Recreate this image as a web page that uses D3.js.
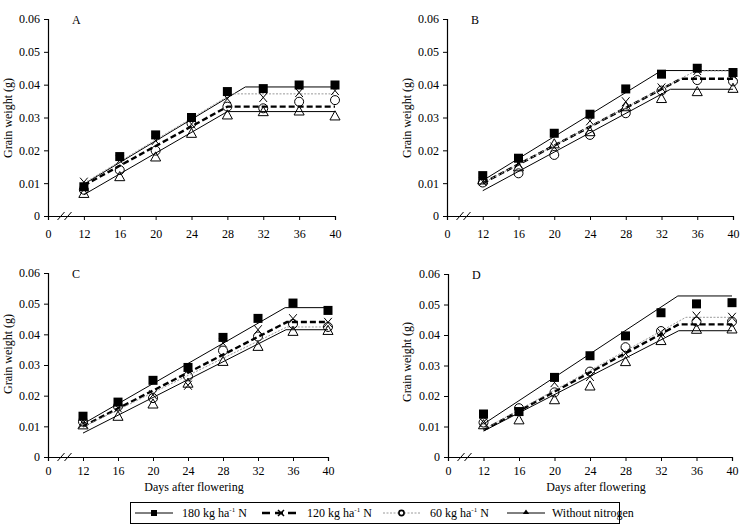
<!DOCTYPE html>
<html>
<head>
<meta charset="utf-8">
<script src="https://cdn.jsdelivr.net/npm/d3@7"></script>
<style>
  body { margin: 0; background: #fff; }
  svg { font-family: "Liberation Serif", "Times New Roman", serif; }
</style>
</head>
<body>
<div id="chart"></div>
<script>
// Days after flowering (x values of the observed points)
const days = [12, 16, 20, 24, 28, 32, 36, 40];
const yTicks = [0, 0.01, 0.02, 0.03, 0.04, 0.05, 0.06];
const xTicks = [8, 12, 16, 20, 24, 28, 32, 36, 40]; // 8 is shown as "0" (broken axis)

const seriesNames = ["180 kg ha", "120 kg ha", "60 kg ha", "Without nitrogen"];

// Observed grain weight (g) - panel A
const a180 = [0.0089, 0.0181, 0.0247, 0.0300, 0.0379, 0.0388, 0.0399, 0.0399];
const a120 = [0.0103, 0.0170, 0.0230, 0.0280, 0.0357, 0.0361, 0.0376, 0.0382];
const a60  = [0.0080, 0.0140, 0.0199, 0.0282, 0.0333, 0.0328, 0.0348, 0.0353];
const a0   = [0.0069, 0.0120, 0.0180, 0.0252, 0.0308, 0.0318, 0.0320, 0.0305];
// panel B
const b180 = [0.0123, 0.0176, 0.0252, 0.0310, 0.0387, 0.0432, 0.0450, 0.0437];
const b120 = [0.0105, 0.0160, 0.0210, 0.0290, 0.0348, 0.0390, 0.0443, 0.0430];
const b60  = [0.0102, 0.0130, 0.0186, 0.0247, 0.0313, 0.0382, 0.0414, 0.0410];
const b0   = [0.0110, 0.0150, 0.0220, 0.0257, 0.0333, 0.0358, 0.0379, 0.0389];
// panel C
const c180 = [0.0133, 0.0179, 0.0250, 0.0292, 0.0390, 0.0452, 0.0502, 0.0478];
const c120 = [0.0110, 0.0160, 0.0203, 0.0234, 0.0372, 0.0415, 0.0451, 0.0439];
const c60  = [0.0115, 0.0165, 0.0192, 0.0263, 0.0347, 0.0393, 0.0434, 0.0424];
const c0   = [0.0105, 0.0133, 0.0173, 0.0241, 0.0312, 0.0361, 0.0410, 0.0413];
// panel D
const d180 = [0.0141, 0.0149, 0.0261, 0.0332, 0.0397, 0.0473, 0.0502, 0.0506];
const d120 = [0.0113, 0.0150, 0.0244, 0.0264, 0.0340, 0.0408, 0.0462, 0.0458];
const d60  = [0.0113, 0.0160, 0.0212, 0.0280, 0.0360, 0.0413, 0.0444, 0.0444];
const d0   = [0.0106, 0.0122, 0.0188, 0.0233, 0.0313, 0.0382, 0.0419, 0.0420];

// Fitted linear-plateau curves: [day, grain weight]
const fitA180 = [[12, 0.0097], [30, 0.0393], [40, 0.0393]];
const fitA120 = [[12, 0.0093], [28, 0.0333], [40, 0.0333]];
const fitA60  = [[12, 0.0100], [28.5, 0.0372], [40, 0.0372]];
const fitA0   = [[12, 0.0065], [28, 0.0318], [40, 0.0318]];
const fitB180 = [[12, 0.0108], [32, 0.0443], [40, 0.0443]];
const fitB120 = [[12, 0.0100], [34.2, 0.0418], [40, 0.0418]];
const fitB60  = [[12, 0.0100], [35.8, 0.0442], [40, 0.0442]];
const fitB0   = [[12, 0.0077], [33, 0.0386], [40, 0.0386]];
const fitC180 = [[12, 0.0108], [35.1, 0.0487], [40, 0.0487]];
const fitC120 = [[12, 0.0100], [35.3, 0.0440], [40, 0.0440]];
const fitC60  = [[12, 0.0098], [35.3, 0.0424], [40, 0.0424]];
const fitC0   = [[12, 0.0078], [35.2, 0.0415], [40, 0.0415]];
const fitD180 = [[12, 0.0108], [33.9, 0.0528], [40, 0.0528]];
const fitD120 = [[12, 0.0088], [34, 0.0435], [40, 0.0435]];
const fitD60  = [[12, 0.0090], [34.8, 0.0458], [40, 0.0458]];
const fitD0   = [[12, 0.0085], [34, 0.0414], [40, 0.0414]];

const svg = d3.select("#chart").append("svg")
    .attr("width", 741)
    .attr("height", 526);

// Panel frames (pixel layout)
const panels = [
    { name: "A", left: 48, right: 335, top: 19, bottom: 216, labelPad: 9, yLabelX: 8, yLabelY: 118, showTitle: false,
      obs: [a180, a120, a60, a0], fits: [fitA180, fitA120, fitA60, fitA0] },
    { name: "B", left: 447, right: 733, top: 19, bottom: 216, labelPad: 9, yLabelX: 407, yLabelY: 118, showTitle: false,
      obs: [b180, b120, b60, b0], fits: [fitB180, fitB120, fitB60, fitB0] },
    { name: "C", left: 48, right: 328, top: 273, bottom: 457, labelPad: 5, yLabelX: 8, yLabelY: 354, showTitle: true,
      obs: [c180, c120, c60, c0], fits: [fitC180, fitC120, fitC60, fitC0] },
    { name: "D", left: 448, right: 732, top: 274, bottom: 457, labelPad: 5, yLabelX: 407, yLabelY: 362, showTitle: true,
      obs: [d180, d120, d60, d0], fits: [fitD180, fitD120, fitD60, fitD0] }
];

// Line styles per series: 180, 120, 60, without N
const lineStyles = [
    { stroke: "#000", width: 1, dash: null },
    { stroke: "#000", width: 2.4, dash: "6,3" },
    { stroke: "#9a9a9a", width: 1, dash: "2,1.5" },
    { stroke: "#000", width: 1, dash: null }
];

// Marker drawing helper
function drawMarker(g, type, x, y, s) {
    if (type === 0) {
        g.append("rect").attr("x", x - s).attr("y", y - s)
            .attr("width", 2 * s).attr("height", 2 * s).attr("fill", "#000");
    } else if (type === 1) {
        g.append("path")
            .attr("d", `M${x - s * 0.85},${y - s}L${x + s * 0.85},${y + s}M${x + s * 0.85},${y - s}L${x - s * 0.85},${y + s}`)
            .attr("stroke", "#000").attr("stroke-width", 1).attr("fill", "none");
    } else if (type === 2) {
        g.append("circle").attr("cx", x).attr("cy", y).attr("r", s)
            .attr("fill", "none").attr("stroke", "#000").attr("stroke-width", 1);
    } else {
        g.append("path")
            .attr("d", `M${x},${y - s * 1.05}L${x + s * 1.05},${y + s * 0.85}L${x - s * 1.05},${y + s * 0.85}Z`)
            .attr("fill", "none").attr("stroke", "#000").attr("stroke-width", 1);
    }
}

panels.forEach(p => {
    const x = d3.scaleLinear().domain([8, 40]).range([p.left, p.right]);
    const y = d3.scaleLinear().domain([0, 0.06]).range([p.bottom, p.top]);
    const g = svg.append("g");

    // Y axis
    g.append("g")
        .attr("transform", `translate(${p.left},0)`)
        .call(d3.axisLeft(y).tickValues(yTicks).tickSize(4).tickPadding(4)
            .tickFormat(d => d === 0 ? "0" : d3.format(".2f")(d)))
        .call(a => a.selectAll("text").attr("font-size", 12).attr("font-family", "Liberation Serif"))
        .call(a => a.select(".domain").attr("stroke-width", 1.2));

    // X axis
    g.append("g")
        .attr("transform", `translate(0,${p.bottom})`)
        .call(d3.axisBottom(x).tickValues(xTicks).tickSize(4).tickPadding(p.labelPad)
            .tickFormat(d => d === 8 ? "0" : d))
        .call(a => a.selectAll("text").attr("font-size", 12).attr("font-family", "Liberation Serif"))
        .call(a => a.select(".domain").attr("stroke-width", 1.2));

    // Axis break marks "//"
    [13, 20].forEach(dx => {
        g.append("line")
            .attr("x1", p.left + dx - 3.5).attr("y1", p.bottom + 4)
            .attr("x2", p.left + dx + 3.5).attr("y2", p.bottom - 4)
            .attr("stroke", "#000").attr("stroke-width", 1);
    });

    // Fitted lines
    const line = d3.line().x(d => x(d[0])).y(d => y(d[1]));
    p.fits.forEach((f, i) => {
        const st = lineStyles[i];
        g.append("path")
            .attr("d", line(f))
            .attr("fill", "none")
            .attr("stroke", st.stroke)
            .attr("stroke-width", st.width)
            .attr("stroke-dasharray", st.dash);
    });

    // Observed points (draw without-N first, 180 last)
    [3, 2, 1, 0].forEach(i => {
        const sizes = [4.5, 4.5, 4.5, 4.8];
        p.obs[i].forEach((v, j) => drawMarker(g, i, x(days[j]), y(v), sizes[i]));
    });

    // Panel letter
    g.append("text")
        .attr("x", p.left + 24).attr("y", p.top + 5)
        .attr("font-size", 12)
        .text(p.name);

    // Y axis title
    g.append("text")
        .attr("transform", `translate(${p.yLabelX},${p.yLabelY}) rotate(-90)`)
        .attr("text-anchor", "middle")
        .attr("dy", "0.35em")
        .attr("font-size", 12)
        .text("Grain weight (g)");

    // X axis title (bottom panels only)
    if (p.showTitle) {
        g.append("text")
            .attr("x", (x(8) + x(40)) / 2 + 6)
            .attr("y", p.bottom + 34)
            .attr("text-anchor", "middle")
            .attr("font-size", 12)
            .text("Days after flowering");
    }
});

// Legend
const legend = svg.append("g");
legend.append("rect")
    .attr("x", 130.5).attr("y", 502.5)
    .attr("width", 489).attr("height", 21)
    .attr("fill", "none").attr("stroke", "#000").attr("stroke-width", 1);

const legendItems = [
    { x0: 135, x1: 173, text: "180 kg ha", tx: 182 },
    { x0: 262, x1: 300, text: "120 kg ha", tx: 307 },
    { x0: 383, x1: 420, text: "60 kg ha", tx: 430 },
    { x0: 507, x1: 545, text: "Without nitrogen", tx: 552 }
];
const ly = 513;
legendItems.forEach((it, i) => {
    const st = lineStyles[i];
    legend.append("line")
        .attr("x1", it.x0).attr("x2", it.x1).attr("y1", ly).attr("y2", ly)
        .attr("stroke", st.stroke).attr("stroke-width", st.width)
        .attr("stroke-dasharray", i === 1 ? "8,5" : st.dash);
    const mx = (it.x0 + it.x1) / 2;
    if (i === 0) {
        legend.append("rect").attr("x", mx - 3).attr("y", ly - 3).attr("width", 6).attr("height", 6).attr("fill", "#000");
    } else if (i === 1) {
        legend.append("path").attr("d", `M${mx - 3},${ly - 3}L${mx + 3},${ly + 3}M${mx + 3},${ly - 3}L${mx - 3},${ly + 3}`)
            .attr("stroke", "#000").attr("stroke-width", 1.5);
    } else if (i === 2) {
        legend.append("circle").attr("cx", mx).attr("cy", ly).attr("r", 2.6)
            .attr("fill", "#fff").attr("stroke", "#000").attr("stroke-width", 1.6);
    } else {
        legend.append("path").attr("d", `M${mx},${ly - 3.5}L${mx + 3.2},${ly + 1}L${mx - 3.2},${ly + 1}Z`)
            .attr("fill", "#000");
    }
    const t = legend.append("text")
        .attr("x", it.tx).attr("y", ly + 4)
        .attr("font-size", 12)
        .text(it.text);
    if (i < 3) {
        t.append("tspan").attr("font-size", 7).attr("dy", -5).text("-1");
        t.append("tspan").attr("dy", 5).text(" N");
    }
});
</script>
</body>
</html>
